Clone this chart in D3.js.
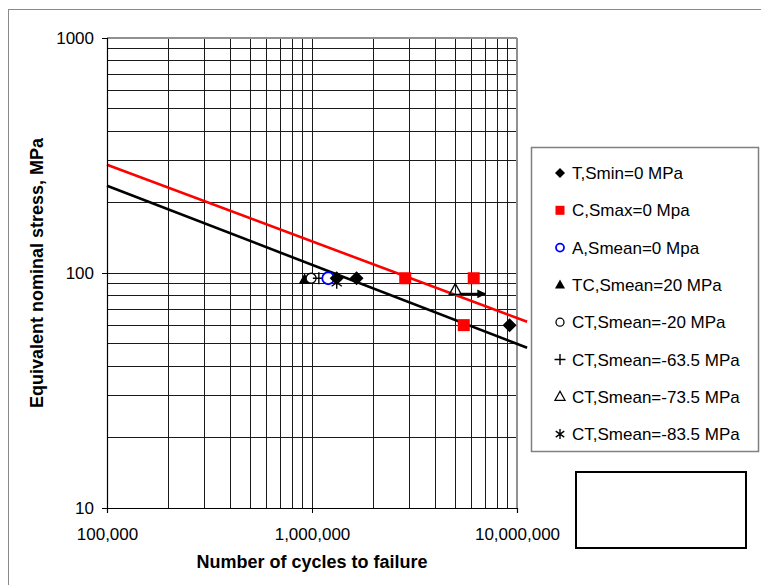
<!DOCTYPE html>
<html><head><meta charset="utf-8">
<script src="https://cdn.jsdelivr.net/npm/d3@7"></script>
<style>
body{margin:0;background:#fff}
svg{display:block}
text{font-family:"Liberation Sans",Arial,sans-serif;fill:#000}
</style>
</head><body>
<svg id="c" width="761" height="585"></svg>
<script>
// ---- data ----
const xTickValues = [1e5, 1e6, 1e7];
const yTickValues = [10, 100, 1000];
const xTitle = "Number of cycles to failure";
const yTitle = "Equivalent nominal stress, MPa";

const tN = [1.32e6, 1.65e6, 9.2e6];
const tS = [95, 95, 60];
const cN = [2.85e6, 5.5e6, 6.15e6];
const cS = [95, 60, 95];
const aN = [1.2e6];
const aS = [95];
const tcN = [9.2e5];
const tcS = [93.5];
const ct20N = [9.9e5];
const ct20S = [95];
const ct635N = [1.08e6];
const ct635S = [95];
const ct735N = [5.0e6];
const ct735S = [84.5];
const ct835N = [1.32e6];
const ct835S = [91];

const legendLabels = [
  "T,Smin=0 MPa", "C,Smax=0 Mpa", "A,Smean=0 Mpa", "TC,Smean=20 MPa",
  "CT,Smean=-20 MPa", "CT,Smean=-63.5 MPa", "CT,Smean=-73.5 MPa", "CT,Smean=-83.5 MPa"
];

// fitted trend lines (endpoints)
const fitN = [1e5, 1.12e7];
const fitRedS = [289, 62];
const fitBlackS = [235, 48.1];

// run-out arrow
const arrowN = [5.25e6, 7.0e6];
const arrowS = [81.5, 81.5];

// ---- layout ----
const svg = d3.select("#c");
const L = 107, R = 517, T = 38, B = 508;
const x = d3.scaleLog().domain([1e5, 1e7]).range([L, R]);
const y = d3.scaleLog().domain([10, 1000]).range([B, T]);

// outer chart border
svg.append("rect").attr("x", 8.5).attr("y", 9.5).attr("width", 800).attr("height", 600)
  .attr("fill", "none").attr("stroke", "#8a8a8a").attr("stroke-width", 1);

// grid
const xGrid = [];
[1e5, 1e6].forEach(d => { for (let k = 1; k <= 9; k++) xGrid.push(d * k); });
xGrid.push(1e7);
const yGrid = [];
[10, 100].forEach(d => { for (let k = 1; k <= 9; k++) yGrid.push(d * k); });
yGrid.push(1000);

const grid = svg.append("g").attr("shape-rendering", "crispEdges");
grid.selectAll("line.v").data(xGrid).join("line").attr("class", "v")
  .attr("x1", d => x(d)).attr("x2", d => x(d)).attr("y1", T).attr("y2", B)
  .attr("stroke", "#1a1a1a");
grid.selectAll("line.h").data(yGrid).join("line").attr("class", "h")
  .attr("x1", L).attr("x2", R).attr("y1", d => y(d)).attr("y2", d => y(d))
  .attr("stroke", "#1a1a1a");
grid.append("line").attr("x1", L).attr("x2", R).attr("y1", T).attr("y2", T).attr("stroke", "#909090").attr("stroke-width", 1.5);
grid.append("line").attr("x1", R).attr("x2", R).attr("y1", T).attr("y2", B).attr("stroke", "#909090").attr("stroke-width", 1.5);

// fit lines
const line = d3.line().x(d => x(d[0])).y(d => y(d[1]));
svg.append("path").datum(fitN.map((n, i) => [n, fitBlackS[i]])).attr("d", line)
  .attr("stroke", "#000").attr("stroke-width", 2.6).attr("fill", "none");
svg.append("path").datum(fitN.map((n, i) => [n, fitRedS[i]])).attr("d", line)
  .attr("stroke", "#ff0000").attr("stroke-width", 2.6).attr("fill", "none");

// axes
const xAxis = d3.axisBottom(x).tickValues(xTickValues).tickFormat(d3.format(",")).tickSize(5).tickPadding(15);
const yAxis = d3.axisLeft(y).tickValues(yTickValues).tickFormat(d3.format("d")).tickSize(5).tickPadding(8);
const gx = svg.append("g").attr("transform", `translate(0,${B})`).call(xAxis);
const gy = svg.append("g").attr("transform", `translate(${L},0)`).call(yAxis);
[gx, gy].forEach(g => {
  g.select(".domain").attr("stroke", "#000").attr("stroke-width", 1.2);
  g.selectAll(".tick line").attr("stroke", "#000");
  g.selectAll(".tick text").attr("font-size", 17).attr("font-family", "Liberation Sans, Arial, sans-serif").attr("fill", "#000");
});

// axis titles
svg.append("text").attr("x", 312).attr("y", 568).attr("text-anchor", "middle")
  .attr("font-size", 18).attr("font-weight", "bold").text(xTitle);
svg.append("text").attr("transform", "translate(43,273) rotate(-90)").attr("text-anchor", "middle")
  .attr("font-size", 18).attr("font-weight", "bold").text(yTitle);

// marker drawing
function drawMarker(g, type, cx, cy, s) {
  const h = s / 2;
  switch (type) {
    case "diamond":
      g.append("path").attr("d", `M${cx},${cy - h}L${cx + h},${cy}L${cx},${cy + h}L${cx - h},${cy}Z`).attr("fill", "#000");
      break;
    case "square":
      g.append("rect").attr("x", cx - h).attr("y", cy - h).attr("width", s).attr("height", s).attr("fill", "#ff0000");
      break;
    case "bluecircle":
      g.append("circle").attr("cx", cx).attr("cy", cy).attr("r", h - 1).attr("fill", "#fff").attr("stroke", "#0000ff").attr("stroke-width", 1.8);
      break;
    case "tri":
      g.append("path").attr("d", `M${cx},${cy - h * 1.1}L${cx + h},${cy + h * 0.7}L${cx - h},${cy + h * 0.7}Z`).attr("fill", "#000");
      break;
    case "circle":
      g.append("circle").attr("cx", cx).attr("cy", cy).attr("r", h - 1).attr("fill", "#fff").attr("stroke", "#000").attr("stroke-width", 1.3);
      break;
    case "plus":
      g.append("path").attr("d", `M${cx - h},${cy}H${cx + h}M${cx},${cy - h}V${cy + h}`).attr("stroke", "#000").attr("stroke-width", 1.4);
      break;
    case "opentri":
      g.append("path").attr("d", `M${cx},${cy - h * 1.1}L${cx + h},${cy + h * 0.7}L${cx - h},${cy + h * 0.7}Z`).attr("fill", "none").attr("stroke", "#000").attr("stroke-width", 1.3);
      break;
    case "star":
      g.append("path").attr("d", `M${cx},${cy - h}V${cy + h}M${cx - h * 0.85},${cy - h * 0.6}L${cx + h * 0.85},${cy + h * 0.6}M${cx - h * 0.85},${cy + h * 0.6}L${cx + h * 0.85},${cy - h * 0.6}`).attr("stroke", "#000").attr("stroke-width", 1.4);
      break;
  }
}

const series = [
  {N: tN, S: tS, m: "diamond", size: 14, ls: 10},
  {N: cN, S: cS, m: "square", size: 12, ls: 9},
  {N: aN, S: aS, m: "bluecircle", size: 14, ls: 10},
  {N: tcN, S: tcS, m: "tri", size: 12, ls: 10},
  {N: ct20N, S: ct20S, m: "circle", size: 12, ls: 10},
  {N: ct635N, S: ct635S, m: "plus", size: 12, ls: 11},
  {N: ct735N, S: ct735S, m: "opentri", size: 12, ls: 10},
  {N: ct835N, S: ct835S, m: "star", size: 12, ls: 10}
];

const pts = svg.append("g");
[3, 4, 5, 2, 7, 0, 1, 6].forEach(i => {
  const s = series[i];
  s.N.forEach((n, j) => drawMarker(pts, s.m, x(n), y(s.S[j]), s.size));
});

// run-out arrow
const defs = svg.append("defs");
defs.append("marker").attr("id", "ah").attr("viewBox", "0 0 10 10").attr("refX", 9).attr("refY", 5)
  .attr("markerWidth", 4).attr("markerHeight", 4).attr("orient", "auto")
  .append("path").attr("d", "M0,0L10,5L0,10Z").attr("fill", "#000");
svg.append("line").attr("x1", x(arrowN[0])).attr("y1", y(arrowS[0])).attr("x2", x(arrowN[1])).attr("y2", y(arrowS[1]))
  .attr("stroke", "#000").attr("stroke-width", 2.2).attr("marker-end", "url(#ah)");

// legend
const lg = svg.append("g");
lg.append("rect").attr("x", 531.5).attr("y", 147.5).attr("width", 227).attr("height", 304)
  .attr("fill", "#fff").attr("stroke", "#808080").attr("stroke-width", 1.5);
legendLabels.forEach((lab, i) => {
  const cy = 173 + i * 37.3;
  drawMarker(lg, series[i].m, 560, cy, series[i].ls);
  lg.append("text").attr("x", 572).attr("y", cy + 6).attr("font-size", 17).text(lab);
});

// empty box
svg.append("rect").attr("x", 576).attr("y", 472).attr("width", 170).attr("height", 76)
  .attr("fill", "#fff").attr("stroke", "#000").attr("stroke-width", 2);
</script>
</body></html>
